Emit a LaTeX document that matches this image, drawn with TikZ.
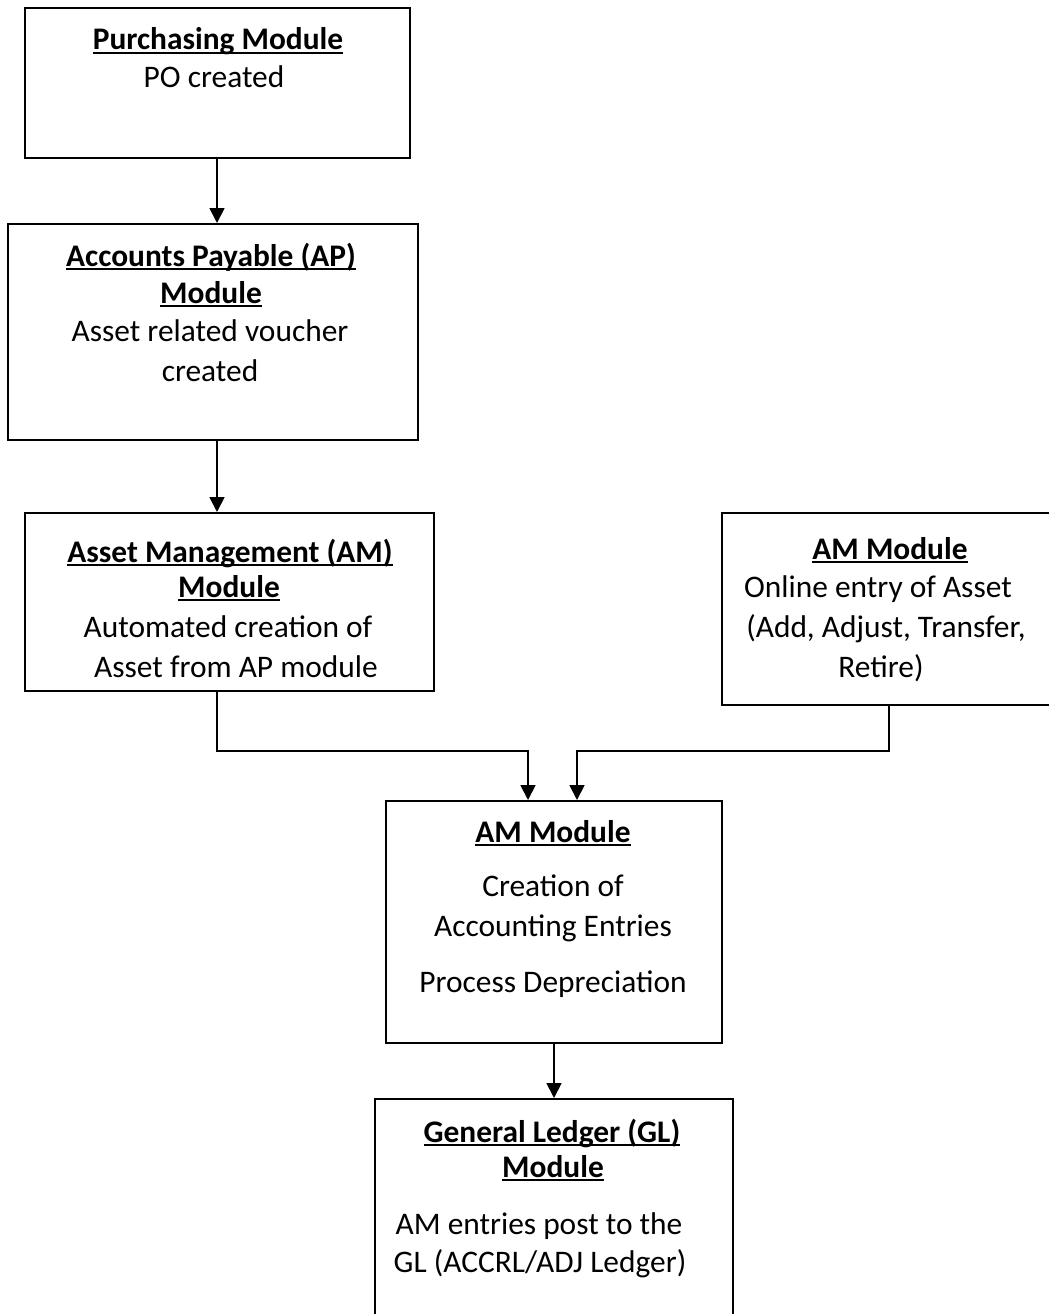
\documentclass[tikz,border=0pt]{standalone}
\usepackage{fontspec}
\setmainfont{Carlito}
\usetikzlibrary{arrows.meta}
\newcommand\hdul[1]{\setbox0\hbox{#1}\rlap{\rule[-0.13em]{\wd0}{0.065em}}\box0}
\begin{document}
\begin{tikzpicture}[x=1pt,y=-1pt,
  boxst/.style={draw=black,line width=2pt,inner sep=0pt,anchor=north west},
  linetext/.style={anchor=base,inner sep=0pt,font=\fontsize{31.4}{38}\selectfont},
  headtext/.style={anchor=base,inner sep=0pt,font=\fontsize{31.4}{38}\selectfont\bfseries},
  flow/.style={line width=1.8pt,-{Triangle[width=15pt,length=15pt]}}]
\useasboundingbox (0,0) rectangle (1049,1314);
\clip (0,0) rectangle (1049,1314);
% boxes
\node[boxst,minimum width=385pt,minimum height=150pt] (b1) at (24,7) {};
\node[boxst,minimum width=410pt,minimum height=216pt] (b2) at (7,223) {};
\node[boxst,minimum width=409pt,minimum height=178pt] (b3) at (24,512) {};
\node[boxst,minimum width=339pt,minimum height=192pt] (b4) at (721,512) {};
\node[boxst,minimum width=336pt,minimum height=242pt] (b5) at (385,800) {};
\node[boxst,minimum width=358pt,minimum height=232pt] (b6) at (374,1098) {};
% texts
\node[headtext] (t11) at (218,50) {\hdul{Purchasing Module}};
\node[linetext] (t12) at (214,88) {PO created};
\node[headtext] (t21) at (211,266) {\hdul{Accounts Payable (AP)}};
\node[headtext] (t22) at (211,303) {\hdul{Module}};
\node[linetext] (t23) at (210,341) {Asset related voucher};
\node[linetext] (t24) at (210,381) {created};
\node[headtext] (t31) at (230,562) {\hdul{Asset Management (AM)}};
\node[headtext] (t32) at (229,597) {\hdul{Module}};
\node[linetext] (t33) at (228,637) {Automated creation of};
\node[linetext] (t34) at (236,677) {Asset from AP module};
\node[headtext] (t41) at (890,559) {\hdul{AM Module}};
\node[linetext] (t42) at (878,597) {Online entry of Asset};
\node[linetext] (t43) at (886,637) {(Add, Adjust, Transfer,};
\node[linetext] (t44) at (881,677) {Retire)};
\node[headtext] (t51) at (553,842) {\hdul{AM Module}};
\node[linetext] (t52) at (553,896) {Creation of};
\node[linetext] (t53) at (553,936) {Accounting Entries};
\node[linetext] (t54) at (553,992) {Process Depreciation};
\node[headtext] (t61) at (552,1142) {\hdul{General Ledger (GL)}};
\node[headtext] (t62) at (553,1177) {\hdul{Module}};
\node[linetext] (t63) at (539,1234) {AM entries post to the};
\node[linetext] (t64) at (540,1272) {GL (ACCRL/ADJ Ledger)};
% connectors
\coordinate (ax) at (217,0);
\coordinate (jl) at (217,751);
\coordinate (ml) at (528,751);
\coordinate (mr) at (577,751);
\coordinate (jr) at (889,751);
\draw[flow] (ax |- b1.south) -- (ax |- b2.north);
\draw[flow] (ax |- b2.south) -- (ax |- b3.north);
\draw[flow] (jl |- b3.south) -- (jl) -- (ml) -- (ml |- b5.north);
\draw[flow] (jr |- b4.south) -- (jr) -- (mr) -- (mr |- b5.north);
\draw[flow] (b5.south) -- (b5.south |- b6.north);
\end{tikzpicture}
\end{document}
